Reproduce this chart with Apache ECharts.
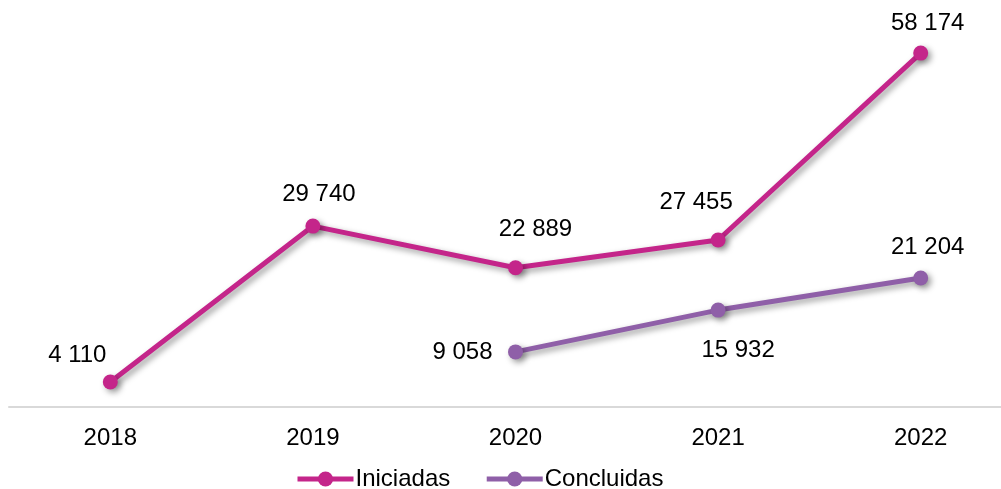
<!DOCTYPE html>
<html>
<head>
<meta charset="utf-8">
<script src="https://cdn.jsdelivr.net/npm/echarts@6/dist/echarts.min.js"></script>
<style>
    html, body {margin: 0; padding: 0; background: #fff; overflow: hidden;}
    /* plot runs past the right edge of the window, as in the original */
    #main {width: 1022px; height: 489px;}
</style>
</head>
<body>
<div id="main"></div>
<script>
var years = ['2018', '2019', '2020', '2021', '2022'];
var iniciadas = [4110, 29740, 22889, 27455, 58174];
var concluidas = [null, null, 9058, 15932, 21204];
// label offsets from each point (dx, dy)
var iniOffsets = [[-33, -27], [6, -32], [20, -38], [-22, -38], [7, -30]];
var conOffsets = [null, null, [-53, 0], [20, 40], [7, -31]];

function fmt(v) {
    return String(v).replace(/\B(?=(\d{3})+(?!\d))/g, ' ');
}

function buildData(values, offsets) {
    var out = [];
    for (var i = 0; i < values.length; i++) {
        if (values[i] == null) { out.push(null); continue; }
        out.push({value: values[i], label: {offset: offsets[i]}});
    }
    return out;
}

var font = 'Liberation Sans, Arial, sans-serif';
var shadow = {shadowColor: 'rgba(0,0,0,0.4)', shadowBlur: 6, shadowOffsetX: 3, shadowOffsetY: 3};

var myChart = echarts.init(document.getElementById('main'));
var option = {
    animation: false,
    grid: {left: 9, top: 42, right: 0, bottom: 82, containLabel: false},
    legend: {
        top: 462,
        left: 290,
        itemWidth: 56,
        itemHeight: 19,
        itemGap: 34,
        lineStyle: {width: 5},
        textStyle: {fontFamily: font, fontSize: 24, color: '#000', padding: [0, 0, 0, -3]},
        data: ['Iniciadas', 'Concluidas']
    },
    xAxis: {
        type: 'category',
        data: years,
        boundaryGap: true,
        axisLine: {lineStyle: {color: '#d9d9d9', width: 2}},
        axisTick: {show: false},
        axisLabel: {fontFamily: font, fontSize: 24, color: '#000', margin: 19}
    },
    yAxis: {
        type: 'value',
        min: 0,
        max: 60000,
        show: false
    },
    series: [
        {
            name: 'Iniciadas',
            type: 'line',
            data: buildData(iniciadas, iniOffsets),
            symbol: 'circle',
            symbolSize: 15,
            lineStyle: Object.assign({width: 5, color: '#C4258A'}, shadow),
            itemStyle: Object.assign({color: '#C4258A'}, shadow),
            label: {
                show: true, position: 'inside', color: '#000',
                fontFamily: font, fontSize: 24,
                formatter: function (p) { return fmt(p.value); }
            }
        },
        {
            name: 'Concluidas',
            type: 'line',
            data: buildData(concluidas, conOffsets),
            symbol: 'circle',
            symbolSize: 15,
            lineStyle: Object.assign({width: 5, color: '#8F5FA8'}, shadow),
            itemStyle: Object.assign({color: '#8F5FA8'}, shadow),
            label: {
                show: true, position: 'inside', color: '#000',
                fontFamily: font, fontSize: 24,
                formatter: function (p) { return fmt(p.value); }
            }
        }
    ]
};
myChart.setOption(option);
</script>
</body>
</html>
